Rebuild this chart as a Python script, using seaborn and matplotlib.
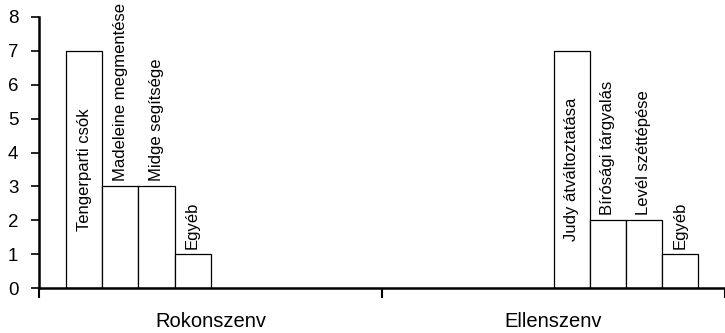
import matplotlib
matplotlib.use("Agg")
import matplotlib.pyplot as plt
import numpy as np
import pandas as pd
import seaborn as sns

groups = ["Rokonszenv", "Ellenszenv"]
rokonszenv_labels = ["Tengerparti csók", "Madeleine megmentése", "Midge segítsége", "Egyéb"]
rokonszenv_values = [7, 3, 3, 1]
ellenszenv_labels = ["Judy átváltoztatása", "Bírósági tárgyalás", "Levél széttépése", "Egyéb "]
ellenszenv_values = [7, 2, 2, 1]
y_ticks = [0, 1, 2, 3, 4, 5, 6, 7, 8]

series = rokonszenv_labels + ellenszenv_labels
df = pd.DataFrame({
    "csoport": [groups[0]] * 4 + [groups[1]] * 4,
    "esemény": series,
    "érték": rokonszenv_values + ellenszenv_values,
})

sns.set_style("white")
plt.rcParams["font.family"] = ["Liberation Sans", "DejaVu Sans"]
for key in ("text.color", "xtick.color", "ytick.color", "axes.labelcolor"):
    plt.rcParams[key] = "black"

fig = plt.figure(figsize=(7.25, 3.33), dpi=100)
ax = fig.add_axes([0.054, 0.135, 0.946, 0.814])

sns.barplot(data=df, x="csoport", y="érték", hue="esemény", order=groups,
            hue_order=series, palette=["white"] * 8, edgecolor="black",
            linewidth=0.9, width=0.842, dodge=True, legend=False, ax=ax)

# label each bar: tall bars get the text inside, short ones above
for idx, cont in enumerate(ax.containers):
    text = series[idx].strip()
    for bar in cont:
        h = bar.get_height()
        if np.isnan(h) or h == 0:
            continue
        x = bar.get_x() + bar.get_width() / 2
        if h >= 5:
            ax.text(x, h / 2, text, rotation=90, ha="center", va="center",
                    fontsize=12)
        else:
            ax.text(x, h + 0.15, text, rotation=90, ha="center", va="bottom",
                    fontsize=12)

ax.set_xlim(-0.5, 1.5)
ax.set_ylim(0, 8)
ax.set_yticks(y_ticks)
ax.tick_params(axis="y", direction="out", length=6, width=1.2, labelsize=13.5, pad=9,
               left=True, colors="black")
ax.set_xticks([0, 1])
ax.set_xticklabels(groups, fontsize=14.5)
ax.tick_params(axis="x", which="major", length=0, pad=17, colors="black")
ax.set_xticks([-0.5, 0.5, 1.5], minor=True)
ax.tick_params(axis="x", which="minor", direction="out", length=7, width=1.5,
               bottom=True, colors="black")
ax.set_xlabel("")
ax.set_ylabel("")

for side in ("top", "right"):
    ax.spines[side].set_visible(False)
for side in ("left", "bottom"):
    ax.spines[side].set_linewidth(1.8)
    ax.spines[side].set_color("black")

fig.savefig("out.png", dpi=100, facecolor="white")
